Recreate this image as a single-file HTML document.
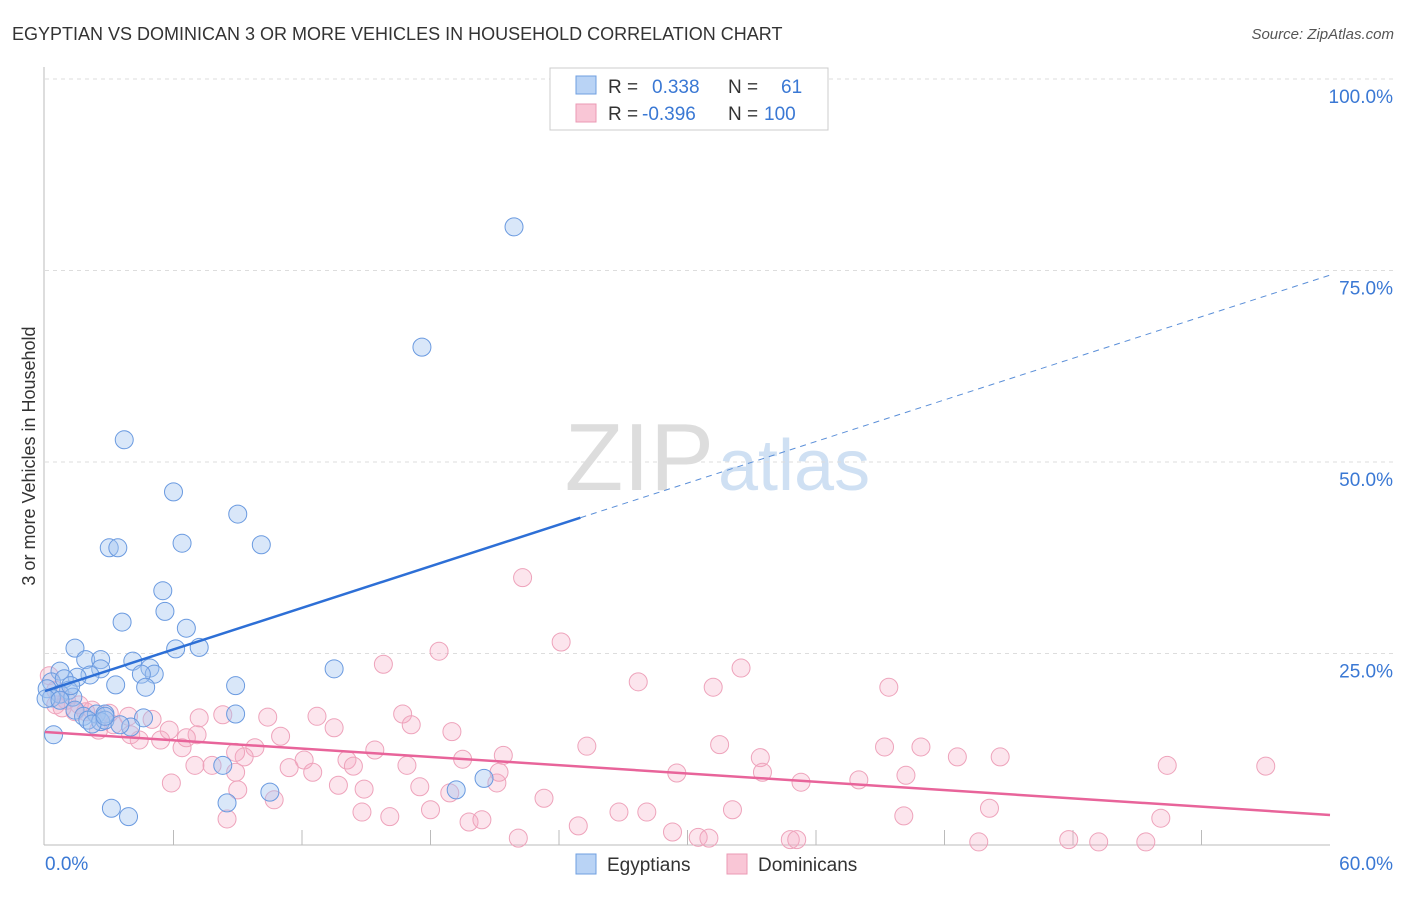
<!DOCTYPE html>
<html><head><meta charset="utf-8"><style>
body{margin:0;background:#fff;font-family:"Liberation Sans",sans-serif}
svg text{font-family:"Liberation Sans",sans-serif}
</style></head><body>
<svg id="c" width="1406" height="892" xmlns="http://www.w3.org/2000/svg">
<text x="12" y="40" font-size="18" fill="#333">EGYPTIAN VS DOMINICAN 3 OR MORE VEHICLES IN HOUSEHOLD CORRELATION CHART</text>
<text x="1394" y="39" font-size="15" fill="#555" text-anchor="end" font-style="italic">Source: ZipAtlas.com</text>
<text x="35" y="456" font-size="18" fill="#333" text-anchor="middle" transform="rotate(-90 35 456)">3 or more Vehicles in Household</text>
<text x="714" y="490" font-size="96" fill="#ddd" text-anchor="end" font-family="Liberation Serif">ZIP</text>
<text x="718" y="490" font-size="72" fill="#cfe0f3">atlas</text>
<g id="grid"></g><g id="pts"></g><g id="lines"></g>
<g>
<rect x="550" y="68" width="278" height="62" fill="#fff" stroke="#ccc"/>
<rect x="576" y="76" width="20" height="18" fill="#b9d3f5" stroke="#6f9fe0"/>
<rect x="576" y="104" width="20" height="18" fill="#f9c6d6" stroke="#eb9ab4"/>
<text x="608" y="93" font-size="19" fill="#333">R =</text><text x="652" y="93" font-size="19" fill="#3a78d4">0.338</text>
<text x="728" y="93" font-size="19" fill="#333">N =</text><text x="781" y="93" font-size="19" fill="#3a78d4">61</text>
<text x="608" y="120" font-size="19" fill="#333">R =</text><text x="642" y="120" font-size="19" fill="#3a78d4">-0.396</text>
<text x="728" y="120" font-size="19" fill="#333">N =</text><text x="764" y="120" font-size="19" fill="#3a78d4">100</text>
</g>
<g>
<rect x="576" y="854" width="20" height="20" fill="#b9d3f5" stroke="#6f9fe0"/>
<text x="607" y="871" font-size="19" fill="#333">Egyptians</text>
<rect x="727" y="854" width="20" height="20" fill="#f9c6d6" stroke="#eb9ab4"/>
<text x="758" y="871" font-size="19" fill="#333">Dominicans</text>
</g>
</svg>
<script>
const egX=[21.9,17.6,3.7,6.0,9.0,6.4,3.0,3.4,10.1,5.5,5.6,3.6,6.6,1.4,7.2,6.1,1.9,2.6,4.1,4.9,5.1,13.5,4.5,2.6,2.1,1.5,0.7,0.3,0.9,8.9,3.3,4.7,0.1,1.1,0.7,1.3,0.3,0.05,1.4,1.8,2.4,2.8,8.9,4.6,2.0,2.6,4.0,0.4,3.1,3.9,8.5,10.5,19.2,20.5,8.3,2.8,2.2,3.5,0.7,1.2,2.8];
const egY=[80.7,65.0,52.9,46.1,43.2,39.4,38.8,38.8,39.2,33.2,30.5,29.1,28.3,25.7,25.8,25.6,24.2,24.2,24.0,23.1,22.3,23.0,22.3,23.0,22.2,21.9,22.7,21.3,21.7,20.8,20.9,20.6,20.4,20.2,19.7,19.3,19.2,19.1,17.6,16.8,17.1,17.1,17.1,16.6,16.3,16.1,15.4,14.4,4.8,3.7,5.5,6.9,7.2,8.7,10.4,16.3,15.8,15.7,18.9,20.8,16.8];
const doX=[22.3,24.1,18.4,15.8,32.5,27.7,31.2,39.4,0.2,0.5,1.0,1.6,2.2,3.0,3.9,5.0,5.8,7.1,8.3,7.2,10.4,12.7,16.7,13.5,19.0,0.5,0.8,1.4,1.9,2.5,3.2,4.4,5.4,6.4,6.6,9.8,11.0,15.4,21.4,25.3,31.5,39.2,40.9,33.4,42.6,44.6,52.4,57.0,7.0,7.8,9.3,8.9,11.4,12.1,12.5,14.1,14.4,16.9,19.5,17.5,21.1,21.2,29.5,33.5,35.3,38.0,40.2,5.9,9.0,10.7,13.7,14.9,18.9,23.3,26.8,28.1,32.1,44.1,40.1,52.1,8.5,14.8,16.1,18.0,19.8,20.4,22.1,24.9,29.3,30.5,31.0,34.8,35.1,43.6,47.8,49.2,51.4,17.1,8.9,4.0];
const doY=[34.9,26.5,25.3,23.6,23.1,21.3,20.6,20.6,22.1,20.2,18.9,18.3,17.6,17.2,16.8,16.4,15.0,14.4,17.0,16.6,16.7,16.8,17.1,15.3,14.8,18.3,17.9,17.4,17.4,15.0,15.7,13.7,13.7,12.7,14.0,12.7,14.2,12.4,11.7,12.9,13.1,12.8,12.8,11.4,11.5,11.5,10.4,10.3,10.4,10.4,11.5,9.5,10.1,11.1,9.5,11.1,10.3,10.4,11.2,7.6,8.1,9.5,9.4,9.5,8.2,8.5,9.1,8.1,7.2,5.9,7.8,7.3,6.8,6.1,4.3,4.3,4.6,4.8,3.8,3.5,3.4,4.3,3.7,4.6,3.0,3.3,0.9,2.5,1.7,1.0,0.9,0.7,0.7,0.4,0.7,0.4,0.4,15.7,12.1,14.4];
const yTicks=[25,50,75,100];
const xTicks=[0,6,12,18,24,30,36,42,48,54,60];
const egLine=[20.1,74.4], doLine=[14.75,3.92];
const sx=v=>45+v*1285/60, sy=v=>845-v*7.66;
const NS='http://www.w3.org/2000/svg';
function mk(p,t,a){const e=document.createElementNS(NS,t);for(const k in a)e.setAttribute(k,a[k]);p.appendChild(e);return e;}
const g=document.getElementById('grid');
yTicks.forEach(t=>{const l=mk(g,'line',{x1:45,x2:1395,y1:sy(t),y2:sy(t),stroke:'#ddd','stroke-dasharray':'4,4'});


const tx=mk(g,'text',{x:1393,y:sy(t)+24,'font-size':19,fill:'#3a78d4','text-anchor':'end'});tx.textContent=t.toFixed(1)+'%';

});
mk(g,'line',{x1:44,x2:44,y1:67,y2:845,stroke:'#bbb'});
mk(g,'line',{x1:44,x2:1330,y1:845,y2:845,stroke:'#bbb'});
xTicks.forEach(t=>{if(t>0&&t<60)mk(g,'line',{x1:sx(t),x2:sx(t),y1:830,y2:845,stroke:'#bbb'});});
[[0,'0.0%','start',45],[60,'60.0%','end',1393]].forEach(a=>{const tx=mk(g,'text',{x:a[3],y:870,'font-size':19,fill:'#3a78d4','text-anchor':a[2]});tx.textContent=a[1];

});
const P=document.getElementById('pts');
doX.forEach((x,i)=>{const c=mk(P,'circle',{cx:sx(x),cy:sy(doY[i]),r:9,fill:'rgba(244,170,195,0.3)',stroke:'#eea3bb','stroke-width':1});

});
egX.forEach((x,i)=>{const c=mk(P,'circle',{cx:sx(x),cy:sy(egY[i]),r:9,fill:'rgba(160,196,240,0.4)',stroke:'#6a9ae0','stroke-width':1});

});
const L=document.getElementById('lines');
const ey=x=>egLine[0]+(egLine[1]-egLine[0])*x/60;
let l1=mk(L,'line',{x1:sx(0),y1:sy(ey(0)),x2:sx(25),y2:sy(ey(25)),stroke:'#2d6fd6','stroke-width':2.5});


let l2=mk(L,'line',{x1:sx(25),y1:sy(ey(25)),x2:sx(60),y2:sy(ey(60)),stroke:'#5b8fd8','stroke-width':1,'stroke-dasharray':'6,5'});


let l3=mk(L,'line',{x1:sx(0),y1:sy(doLine[0]),x2:sx(60),y2:sy(doLine[1]),stroke:'#e8649a','stroke-width':2.5});


</script>
</body></html>
